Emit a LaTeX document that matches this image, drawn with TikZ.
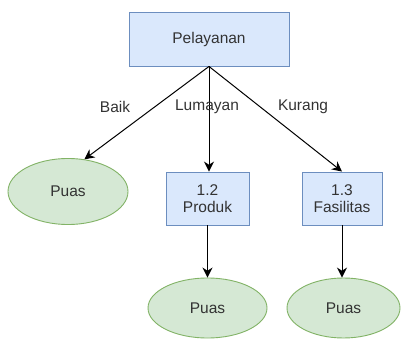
\documentclass[tikz,border=0pt]{standalone}
\usepackage{fontspec}
\setmainfont{Liberation Sans}
\usetikzlibrary{shapes.geometric,arrows.meta}
\definecolor{boxfill}{HTML}{DAE8FC}
\definecolor{boxdraw}{HTML}{6C8EBF}
\definecolor{ellfill}{HTML}{D5E8D4}
\definecolor{elldraw}{HTML}{82B366}
\definecolor{txt}{HTML}{333333}
\tikzset{
  procbox/.style={draw=boxdraw, fill=boxfill, line width=0.9pt, inner sep=0pt, align=center, text=txt, font=\fontsize{15.5}{17}\selectfont},
  puasell/.style={ellipse, draw=elldraw, fill=ellfill, line width=0.9pt, inner sep=0pt, minimum width=120pt, minimum height=66pt, text=txt, font=\fontsize{15.5}{17}\selectfont},
  flow/.style={draw=black, line width=1pt, -{Stealth[length=10pt, width=10pt]}},
  lbl/.style={text=txt, font=\fontsize{15.5}{17}\selectfont, inner sep=0pt}
}
\begin{document}
\begin{tikzpicture}[x=1pt, y=-1pt]
\useasboundingbox (0,0) rectangle (401,339);
\fill[white] (0,0) rectangle (401,339);
\node[procbox, minimum width=160pt, minimum height=54pt] (pel) at (209,39) {Pelayanan};
\node[puasell] (p1) at (68,191.5) {Puas};
\node[procbox, minimum width=83pt, minimum height=53pt] (prod) at (207.5,198.5) {1.2\\Produk};
\node[procbox, minimum width=80pt, minimum height=53pt] (fas) at (342,198.5) {1.3\\Fasilitas};
\node[puasell, minimum width=119pt, minimum height=60pt] (p2) at (207.5,308) {Puas};
\node[puasell, minimum width=113pt, minimum height=60pt] (p3) at (343.5,308) {Puas};
\coordinate (o) at (pel.south);
\draw[flow] (o) -- (p1.63);
\draw[flow] (o) -- (o |- prod.north);
\draw[flow] (o) -- (fas.north);
\draw[flow] (prod.south) -- (prod.south |- p2.north);
\draw[flow] (fas.south) -- (fas.south |- p3.north);
\node[lbl] (lb) at (115,107) {Baik};
\node[lbl] (ll) at (207,107) {Lumayan};
\node[lbl] (lk) at (303,107) {Kurang};
\end{tikzpicture}
\end{document}
